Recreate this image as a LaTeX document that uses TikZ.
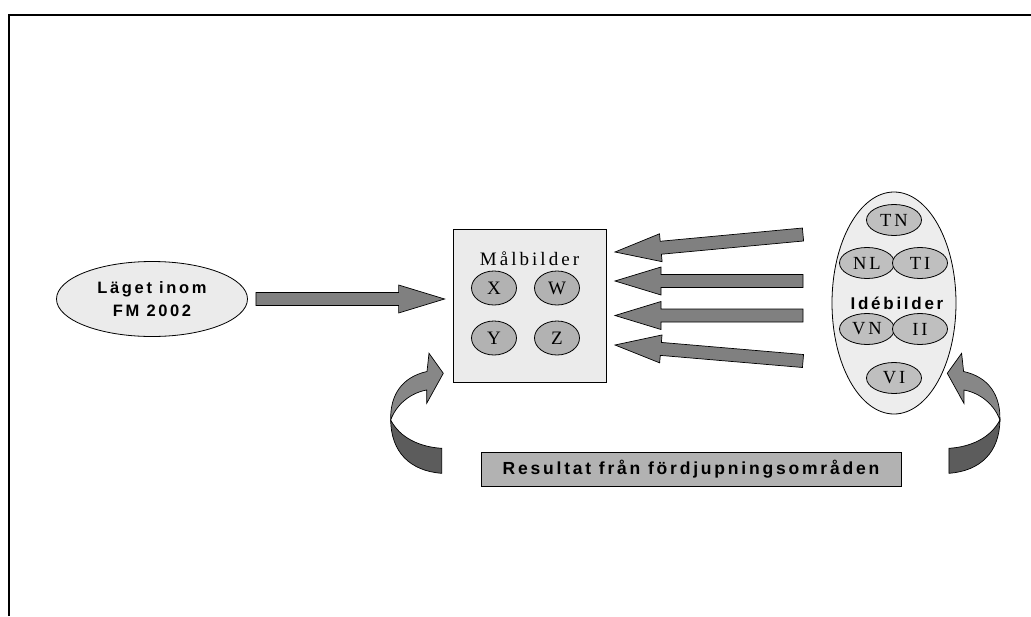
\documentclass[tikz,border=0pt]{standalone}
\usepackage{fontspec}
\setmainfont{Liberation Serif}
\newfontfamily\sansspaced[LetterSpace=16]{Liberation Sans}
\newfontfamily\serifspaced[LetterSpace=16]{Liberation Serif}
\usetikzlibrary{positioning,calc,shapes.geometric}
\tikzset{
    on grid,
    start/.style = {
        draw,
        shape=ellipse,
        fill=black!8,
        minimum width=191pt,
        minimum height=75pt,
        inner sep=0pt,
        align=center,
        line width=0.8pt,
        font=\sansspaced\bfseries\fontsize{16.5}{23}\selectfont
    },
    goalbox/.style = {
        draw,
        shape=rectangle,
        fill=black!8,
        minimum width=153pt,
        minimum height=153pt,
        line width=0.8pt
    },
    ideabox/.style = {
        draw,
        shape=ellipse,
        fill=black!7,
        minimum width=124pt,
        minimum height=222pt,
        line width=0.8pt
    },
    oval/.style = {
        draw,
        shape=ellipse,
        fill=black!30,
        minimum width=45pt,
        minimum height=34pt,
        inner sep=0pt,
        line width=0.8pt,
        font=\fontsize{19}{19}\selectfont
    },
    idea/.style = {
        oval,
        fill=black!25,
        minimum width=55pt,
        minimum height=31pt,
        font=\serifspaced\fontsize{18.5}{18.5}\selectfont
    },
    title/.style = {
        font=\sansspaced\bfseries\fontsize{17}{17}\selectfont
    },
    resultbox/.style = {
        draw,
        shape=rectangle,
        fill=black!30,
        minimum width=420pt,
        minimum height=34pt,
        line width=0.8pt,
        font=\sansspaced\bfseries\fontsize{17.5}{17.5}\selectfont
    },
    blockarrow/.style = {
        draw,
        fill=black!50,
        line width=0.7pt,
        line join=miter
    },
    curlfront/.style = {
        draw,
        fill=black!47,
        line width=0.7pt
    },
    curlback/.style = {
        draw,
        fill=black!64,
        line width=0.7pt
    },
}

% block arrow from #1 to #2
\newcommand{\blockarrow}[2]{%
    \coordinate (bah) at ($(#2)!46pt!(#1)$);
    \draw[blockarrow] ($(#1)!6.5pt!90:(#2)$) -- ($(bah)!6.5pt!-90:(#1)$)
        -- ($(bah)!14pt!-90:(#1)$) -- (#2) -- ($(bah)!14pt!90:(#1)$)
        -- ($(bah)!6.5pt!90:(#1)$) -- ($(#1)!6.5pt!-90:(#2)$) -- cycle;
}

% curled ribbon arrow
\newcommand{\curlarrow}{%
    \draw[curlback] (390.7,420) .. controls (400,438) and (420,447) .. (441.7,448.3)
        -- (441.7,473.3) .. controls (410,471) and (391,452) .. (390.7,420) -- cycle;
    \draw[curlfront] (390.7,420) .. controls (390,395) and (402,377) .. (427,371.5)
        -- (429,353.3) -- (443.3,373.3) -- (426.7,403.3) -- (426.7,390)
        .. controls (410,393) and (396,405) .. (390.7,420) -- cycle;
}

\begin{document}
\begin{tikzpicture}[x=1pt, y=-1pt]
    \useasboundingbox (0,0) rectangle (1031,616);
    \draw[line width=2pt] (9,616) -- (9,15) -- (1031,15);

    \node[start] (lage) at (152,299) {Läget inom\\FM 2002};

    \node[goalbox] (mal) at (529.5,305.5) {};
    \node[below=20pt of mal.north, font=\serifspaced\fontsize{19}{19}\selectfont] (maltitle) {Målbilder};
    \node[oval] (x) at (494,288) {X};
    \node[oval, right=63pt of x] (w) {W};
    \node[oval, below=50pt of x] (y) {Y};
    \node[oval, right=63pt of y] (z) {Z};

    \node[ideabox] (ide) at (894,303) {};
    \node[idea] (tn) at (894,220) {TN};
    \node[idea] (nl) at (867,263) {NL};
    \node[idea, right=53pt of nl] (ti) {TI};
    \node[title, below=83pt of tn, xshift=3pt] (idetitle) {Idébilder};
    \node[idea, below=66pt of nl] (vn) {VN};
    \node[idea, right=53pt of vn] (ii) {II};
    \node[idea, below=158pt of tn] (vi) {VI};

    \node[resultbox] (res) at (691,469) {Resultat från fördjupningsområden};

    \coordinate (in0) at ([xshift=8pt]lage.east);
    \coordinate (in1) at ([xshift=-8pt]mal.west |- in0);
    \blockarrow{in0}{in1}

    \coordinate (f1) at (803,234.5);
    \coordinate (t1) at (615,252);
    \coordinate (f2) at (803,281);
    \coordinate (t2) at (615,281);
    \coordinate (f3) at (803,315.5);
    \coordinate (t3) at (615,315.5);
    \coordinate (f4) at (803,361);
    \coordinate (t4) at (615,345);
    \blockarrow{f1}{t1}
    \blockarrow{f2}{t2}
    \blockarrow{f3}{t3}
    \blockarrow{f4}{t4}

    \curlarrow
    \begin{scope}[xshift=1390.6pt, xscale=-1]
        \curlarrow
    \end{scope}
\end{tikzpicture}
\end{document}
